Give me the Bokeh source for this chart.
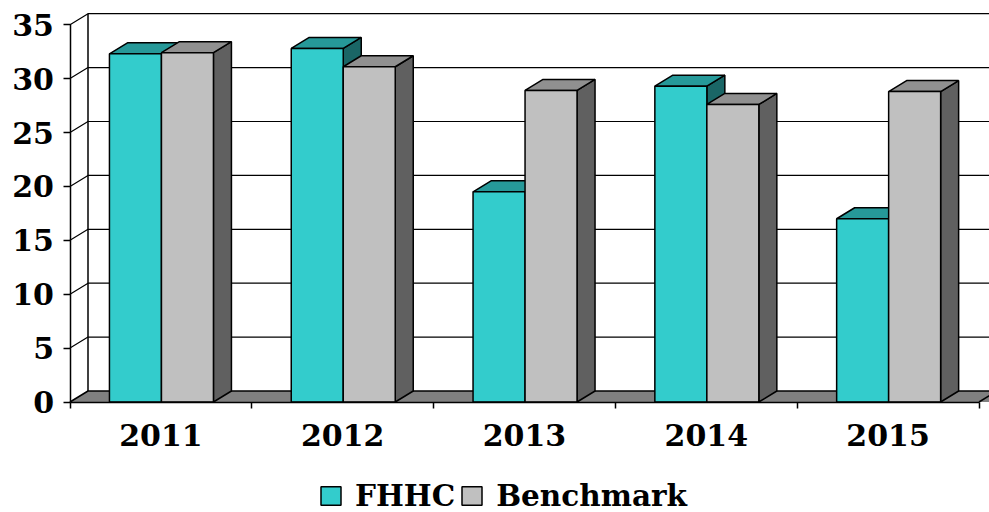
from bokeh.embed import file_html
from bokeh.resources import INLINE
from bokeh.plotting import figure
from bokeh.models import Range1d, FixedTicker, Legend, LegendItem

categories = ["2011", "2012", "2013", "2014", "2015"]
fhhc = [32.3, 32.8, 19.5, 29.3, 17.0]
benchmark = [32.4, 31.1, 28.9, 27.6, 28.8]
y_ticks = [0, 5, 10, 15, 20, 25, 30, 35]

FONT = "DejaVu Serif"
FS = "30px"
UX = 181.8  # px per category
UY = 10.78  # px per value unit
DX = 18 / UX
DY = 11 / UY
GAP = 0.217
BW = 0.286
W, H = 989, 512
LEFT, BOTTOM = 69.5, 110.5
LW = 1.5

p = figure(width=W, height=H, output_backend="svg", toolbar_location=None,
           min_border=0, outline_line_color=None,
           x_range=Range1d(-LEFT / UX, (W - LEFT) / UX),
           y_range=Range1d(-BOTTOM / UY, (H - BOTTOM) / UY))
p.grid.visible = False

ax = p.xaxis[0]
ax.fixed_location = 0
ax.ticker = FixedTicker(ticks=[i + 0.5 for i in range(len(categories))],
                        minor_ticks=list(range(len(categories) + 1)))
ax.major_label_overrides = {i + 0.5: c for i, c in enumerate(categories)}
ax.bounds = (0, len(categories))
ax.major_tick_line_color = None
ax.major_tick_out = 0
ax.major_tick_in = 0
ax.minor_tick_out = 6
ax.minor_tick_in = 0
ax.minor_tick_line_color = "#000000"
ax.minor_tick_line_width = LW
ax.axis_line_color = "#000000"
ax.axis_line_width = LW
ax.major_label_text_font = FONT
ax.major_label_text_font_style = "bold"
ax.major_label_text_font_size = FS
ax.major_label_text_color = "#000000"
ax.major_label_standoff = 16

ay = p.yaxis[0]
ay.fixed_location = 0
ay.ticker = FixedTicker(ticks=y_ticks)
ay.bounds = (0, y_ticks[-1])
ay.major_tick_out = 7
ay.major_tick_in = 0
ay.minor_tick_line_color = None
ay.major_tick_line_width = LW
ay.major_tick_line_color = "#000000"
ay.axis_line_color = "#000000"
ay.axis_line_width = LW
ay.major_label_text_font = FONT
ay.major_label_text_font_style = "bold"
ay.major_label_text_font_size = FS
ay.major_label_text_color = "#000000"
ay.major_label_standoff = 9

n = len(categories)
top = y_ticks[-1] + DY
x_end = p.x_range.end + 1

# floor
p.patch([0, x_end, x_end, DX], [0, 0, DY, DY], fill_color="#808080", line_color=None)
p.line([0, DX, x_end], [0, DY, DY], line_color="#000000", line_width=LW)

# walls and gridlines
p.line([DX, DX], [DY, top], line_color="#000000", line_width=LW)
for t in y_ticks[1:]:
    p.line([0, DX, x_end], [t, t + DY, t + DY], line_color="#000000", line_width=1.2)
p.line([n, n + DX], [0, DY], line_color="#000000", line_width=LW)

# bars
styles = [("#33CCCC", "#269999", "#1A6666", 0), ("#C0C0C0", "#909090", "#606060", 1)]
fronts = []
for i in range(n):
    for vals, (front, topc, side, k) in zip((fhhc, benchmark), styles):
        x0 = i + GAP + k * BW
        x1 = x0 + BW
        v = vals[i]
        p.patch([x1, x1 + DX, x1 + DX, x1], [0, DY, v + DY, v],
                fill_color=side, line_color="#000000", line_width=LW)
        p.patch([x0, x1, x1 + DX, x0 + DX], [v, v, v + DY, v + DY],
                fill_color=topc, line_color="#000000", line_width=LW)
        r = p.quad(left=[x0], right=[x1], bottom=[0], top=[v],
                   fill_color=front, line_color="#000000", line_width=LW)
        if i == 0:
            fronts.append(r)

legend = Legend(items=[LegendItem(label="FHHC", renderers=[fronts[0]]),
                       LegendItem(label="Benchmark", renderers=[fronts[1]])],
                orientation="horizontal", location=(318, -1),
                border_line_color=None, background_fill_alpha=0,
                padding=0, margin=0, spacing=4, label_standoff=12,
                glyph_width=25, glyph_height=23,
                label_text_font=FONT, label_text_font_style="bold",
                label_text_font_size="29.5px", label_text_color="#000000")
p.add_layout(legend, "center")

open("out.html", "w").write(file_html(p, INLINE))
